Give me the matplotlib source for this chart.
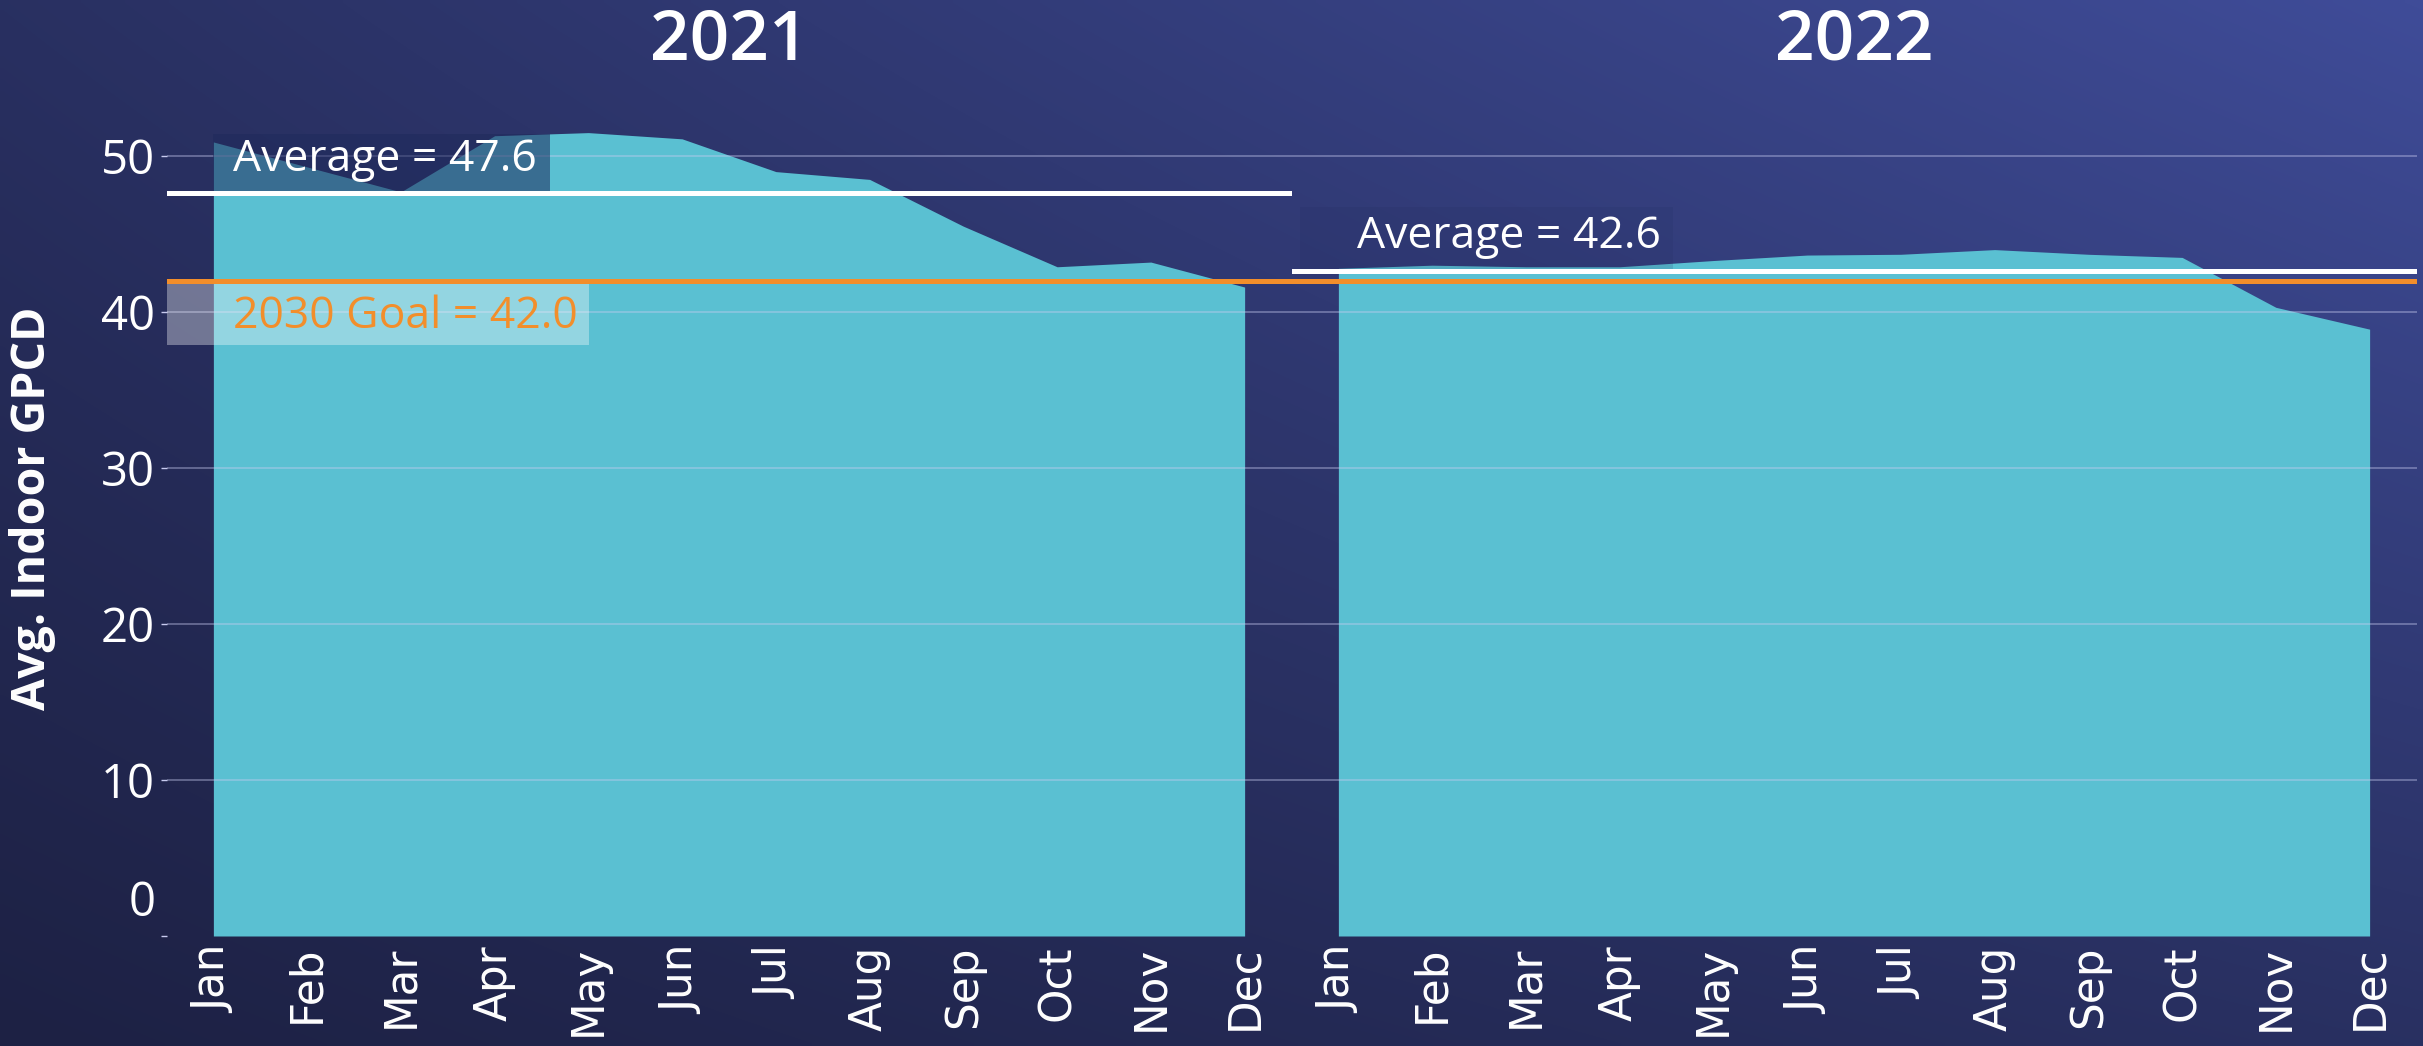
import numpy as np
import matplotlib
matplotlib.use("Agg")
import matplotlib.pyplot as plt
from matplotlib.patches import Rectangle
from matplotlib.colors import LinearSegmentedColormap

# ---------------- data ----------------
months = ["Jan", "Feb", "Mar", "Apr", "May", "Jun",
          "Jul", "Aug", "Sep", "Oct", "Nov", "Dec"]
years = ["2021", "2022"]
gpcd_2021 = [50.9, 49.3, 47.7, 51.3, 51.5, 51.1, 49.0, 48.5, 45.5, 42.9, 43.2, 41.6]
gpcd_2022 = [42.8, 43.0, 42.9, 42.9, 43.3, 43.65, 43.7, 44.0, 43.7, 43.5, 40.3, 38.9]
averages = [47.6, 42.6]
goal_value = 42.0
y_ticks = [0, 10, 20, 30, 40, 50]
y_label = "Avg. Indoor GPCD"

series = [gpcd_2021, gpcd_2022]

# ---------------- style ----------------
W, H = 2423, 1046
AREA = "#5ac0d2"
ORANGE = "#f28e2b"
GRID = "#c8cbf0"
SANS = ["Open Sans", "DejaVu Sans"]

fig = plt.figure(figsize=(W / 100, H / 100), dpi=100)

# gradient background
bg = fig.add_axes([0, 0, 1, 1], zorder=-10)
xx = np.linspace(0, 1, 400)
yy = np.linspace(0, 1, 200)
X, Y = np.meshgrid(xx, yy)
T = 0.35 * X + 0.35 * Y + 0.3 * X * Y
cmap = LinearSegmentedColormap.from_list("bg", ["#1d2144", "#3f4c98"])
bg.imshow(T, cmap=cmap, origin="lower", extent=[0, 1, 0, 1], aspect="auto",
          interpolation="bilinear")
bg.axis("off")

left_px, width_px = 166.5, 1125
bottom_px = 936
ymax = 55
px_per_unit = 15.6
height_px = ymax * px_per_unit

axes = []
for i, (yr, vals, avg) in enumerate(zip(years, series, averages)):
    ax = fig.add_axes([(left_px + i * width_px) / W, (H - bottom_px) / H,
                       width_px / W, height_px / H])
    ax.set_facecolor("none")
    x = np.arange(len(months))
    ax.fill_between(x, 0, vals, color=AREA, lw=0, zorder=1)
    ax.set_xlim(-0.5, len(months) - 0.5)
    ax.set_ylim(0, ymax)
    for s in ax.spines.values():
        s.set_visible(False)
    # gridlines
    for t in y_ticks[1:]:
        ax.axhline(t, color=GRID, alpha=0.45, lw=1.2, zorder=2)
    # reference lines
    ax.axhline(avg, color="white", lw=3.6, zorder=5)
    ax.axhline(goal_value, color=ORANGE, lw=3.6, zorder=5)

    ax.set_xticks(x)
    ax.set_xticklabels(months, rotation=90, va="top", ha="center",
                       fontsize=31.5, color="white", family="DejaVu Sans")
    ax.tick_params(axis="x", length=0, pad=7)

    ax.set_yticks(y_ticks)
    if i == 0:
        ax.set_yticklabels([""] + [str(t) for t in y_ticks[1:]],
                           fontsize=34, color="white", family=SANS)
        ax.tick_params(axis="y", length=4.5, width=1, color=GRID, pad=4)
        ax.annotate(str(y_ticks[0]), xy=(0, y_ticks[0]),
                    xycoords=("axes fraction", "data"),
                    xytext=(-11, 33), textcoords="offset pixels",
                    ha="right", va="center", fontsize=34, color="white",
                    family=SANS)
    else:
        ax.set_yticklabels([])
        ax.tick_params(axis="y", length=0)
    axes.append(ax)

ax1, ax2 = axes

# annotation boxes / labels
ax1.add_patch(Rectangle((0, averages[0]), 3.59, 3.8, facecolor="#1f2a5c",
                        alpha=0.55, lw=0, zorder=3))
ax1.text(0.21, averages[0] + 2.15, f"Average = {averages[0]:.1f}", fontsize=32,
         color="white", family=SANS, ha="left", va="center", zorder=6)

ax1.add_patch(Rectangle((-0.5, goal_value - 4.1), 4.51, 4.1, facecolor="white",
                        alpha=0.35, lw=0, zorder=3))
ax1.text(0.21, goal_value - 2.3, f"2030 Goal = {goal_value:.1f}", fontsize=32,
         color=ORANGE, family=SANS, ha="left", va="center", zorder=6)

ax2.add_patch(Rectangle((-0.41, averages[1] + 0.1), 3.98, 4.0, facecolor="#1f2a5c",
                        alpha=0.15, lw=0, zorder=3))
ax2.text(0.2, averages[1] + 2.2, f"Average = {averages[1]:.1f}", fontsize=32,
         color="white", family=SANS, ha="left", va="center", zorder=6)

# year titles
for i, yr in enumerate(years):
    cx = (left_px + (i + 0.5) * width_px) / W
    fig.text(cx, 1 - 42 / H, yr, ha="center", va="center", fontsize=50,
             fontweight="semibold", color="white", family=SANS)

# y label
fig.text(33 / W, 1 - 508 / H, y_label, rotation=90, ha="center", va="center",
         fontsize=33.5, fontweight="bold", color="white", family=SANS)

fig.savefig("out.png", dpi=100)
